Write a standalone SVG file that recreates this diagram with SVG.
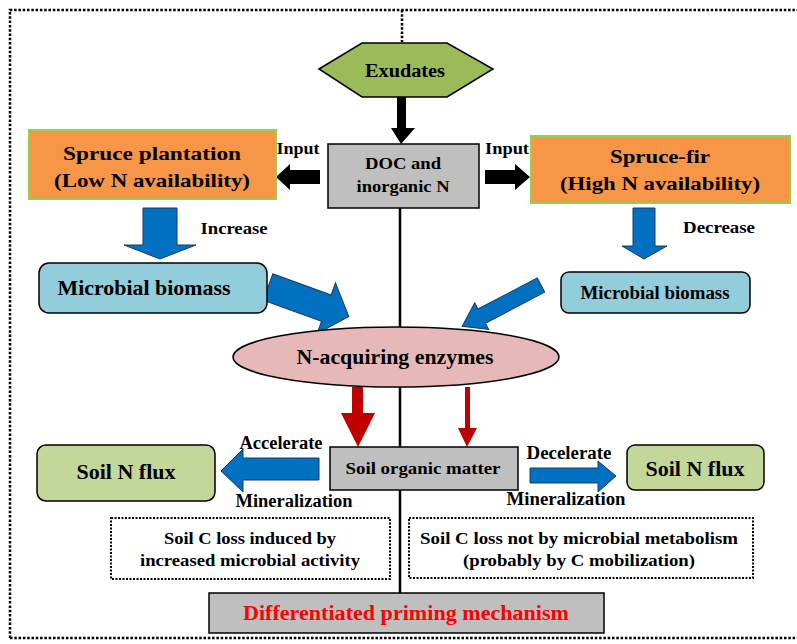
<svg xmlns="http://www.w3.org/2000/svg" width="797" height="644" viewBox="0 0 797 644">
<style>
text{font-family:"Liberation Serif","DejaVu Serif",serif;font-weight:bold;fill:#000;text-anchor:middle}
.dot{fill:none;stroke:#000;stroke-width:2.5;stroke-dasharray:2.5 1.8}
.dotb{fill:#fff;stroke:#000;stroke-width:2;stroke-dasharray:2 1.5}
.gray{fill:#bfbfbf;stroke:#000;stroke-width:1.5}
.orange{fill:#f79646;stroke:#92d050;stroke-width:2}
.blue{fill:#0070c0;stroke:#1f3864;stroke-width:1}
.red{fill:#c00000}
.blk{fill:#000}
.line{stroke:#000;stroke-width:2.5;fill:none}
</style>
<rect x="0" y="0" width="797" height="644" fill="#fff"/>
<g id="frame">
<path class="dot" d="M10,638 L10,10 L797,10"/>
<path class="dot" d="M10,638 L797,638"/>
<path class="dot" d="M402,10 L402,42"/>
</g>
<g id="connectors">
<path class="line" d="M400,208 V327 M400,387 V447 M400,490 V593"/>
<polygon class="blk" points="397,97 406,97 406,128 415,128 401,144 391,128 397,128"/>
<polygon class="blk" points="320,170 290,170 290,164 276,177 290,190 290,184 320,184"/>
<polygon class="blk" points="485,170 515,170 515,164 530,177 515,190 515,184 485,184"/>
<polygon class="blue" points="143,208 177,208 177,245 196,245 160,259 124,245 143,245"/>
<polygon class="blue" points="633,208 655,208 655,246 667,246 644,259 622,246 633,246"/>
<polygon class="blue" transform="translate(268,287) rotate(20)" points="0,-14 62,-14 62,-27 86,0 62,27 62,14 0,14"/>
<polygon class="blue" transform="translate(541,285) rotate(152.3)" points="0,-8 67,-8 67,-15 89,0 67,15 67,8 0,8"/>
<polygon class="red" points="352,387 363,387 363,413 375,413 358,447 341,413 352,413"/>
<polygon class="red" points="465,387 470,387 470,428 477,428 467,447 458,428 465,428"/>
<polygon class="blue" points="319,458 243,458 243,449 221,471 243,492 243,480 319,480"/>
<polygon class="blue" points="530,468 598,468 598,461 616,476 598,492 598,483 530,483"/>
</g>
<g id="labels">
<text x="298" y="154" font-size="17" textLength="43" lengthAdjust="spacingAndGlyphs">Input</text>
<text x="507" y="154" font-size="17" textLength="44" lengthAdjust="spacingAndGlyphs">Input</text>
<text x="234" y="234" font-size="17" textLength="67" lengthAdjust="spacingAndGlyphs">Increase</text>
<text x="719" y="233" font-size="17" textLength="72" lengthAdjust="spacingAndGlyphs">Decrease</text>
<text x="281" y="449" font-size="18" textLength="83" lengthAdjust="spacingAndGlyphs">Accelerate</text>
<text x="294" y="507" font-size="18" textLength="117" lengthAdjust="spacingAndGlyphs">Mineralization</text>
<text x="569" y="459" font-size="18" textLength="85" lengthAdjust="spacingAndGlyphs">Decelerate</text>
<text x="566" y="505" font-size="18" textLength="119" lengthAdjust="spacingAndGlyphs">Mineralization</text>
</g>
<g id="exudates">
<polygon points="319,69 362,43 447,43 493,69 447,97 362,97" fill="#9bbb59" stroke="#000" stroke-width="1.5"/>
<text x="405" y="77" font-size="18" textLength="80" lengthAdjust="spacingAndGlyphs">Exudates</text>
</g>
<g id="doc">
<rect class="gray" x="328" y="144" width="151" height="64"/>
<text x="403" y="169" font-size="17" textLength="76" lengthAdjust="spacingAndGlyphs">DOC and</text>
<text x="403" y="192" font-size="17" textLength="93" lengthAdjust="spacingAndGlyphs">inorganic N</text>
</g>
<g id="spruce-plantation">
<rect class="orange" x="29" y="130" width="247" height="69"/>
<text x="152" y="160" font-size="19" textLength="178" lengthAdjust="spacingAndGlyphs">Spruce plantation</text>
<text x="152" y="187" font-size="19" textLength="196" lengthAdjust="spacingAndGlyphs">(Low N availability)</text>
</g>
<g id="spruce-fir">
<rect class="orange" x="531" y="136" width="259" height="67"/>
<text x="660" y="163" font-size="19" textLength="100" lengthAdjust="spacingAndGlyphs">Spruce-fir</text>
<text x="660" y="190" font-size="19" textLength="200" lengthAdjust="spacingAndGlyphs">(High N availability)</text>
</g>
<g id="biomass-left">
<rect x="39" y="263" width="228" height="50" rx="10" fill="#92cddc" stroke="#000" stroke-width="1.5"/>
<text x="144" y="295" font-size="21" textLength="173" lengthAdjust="spacingAndGlyphs">Microbial biomass</text>
</g>
<g id="biomass-right">
<rect x="561" y="272" width="189" height="41" rx="8" fill="#92cddc" stroke="#000" stroke-width="1.5"/>
<text x="655" y="299" font-size="18" textLength="149" lengthAdjust="spacingAndGlyphs">Microbial biomass</text>
</g>
<g id="enzymes">
<ellipse cx="396" cy="357" rx="163" ry="30" fill="#e6b9b8" stroke="#000" stroke-width="1.5"/>
<text x="395" y="364" font-size="21" textLength="197" lengthAdjust="spacingAndGlyphs">N-acquiring enzymes</text>
</g>
<g id="som">
<rect class="gray" x="330" y="447" width="188" height="43"/>
<text x="423" y="474" font-size="17" textLength="155" lengthAdjust="spacingAndGlyphs">Soil organic matter</text>
</g>
<g id="nflux-left">
<rect x="37" y="445" width="178" height="56" rx="9" fill="#c4d79b" stroke="#000" stroke-width="1.5"/>
<text x="126" y="479" font-size="21" textLength="99" lengthAdjust="spacingAndGlyphs">Soil N flux</text>
</g>
<g id="nflux-right">
<rect x="627" y="445" width="137" height="45" rx="8" fill="#c4d79b" stroke="#000" stroke-width="1.5"/>
<text x="695" y="476" font-size="21" textLength="99" lengthAdjust="spacingAndGlyphs">Soil N flux</text>
</g>
<g id="closs-left">
<rect class="dotb" x="111" y="518" width="279" height="61"/>
<text x="250" y="544" font-size="16" textLength="172" lengthAdjust="spacingAndGlyphs">Soil C loss induced by</text>
<text x="250" y="566" font-size="16" textLength="220" lengthAdjust="spacingAndGlyphs">increased microbial activity</text>
</g>
<g id="closs-right">
<rect class="dotb" x="409" y="518" width="344" height="60"/>
<text x="579" y="544" font-size="16" textLength="318" lengthAdjust="spacingAndGlyphs">Soil C loss not by microbial metabolism</text>
<text x="579" y="566" font-size="16" textLength="232" lengthAdjust="spacingAndGlyphs">(probably by C mobilization)</text>
</g>
<g id="priming">
<rect class="gray" x="209" y="593" width="395" height="40"/>
<text x="406" y="620" font-size="20" style="fill:#ff0000" textLength="326" lengthAdjust="spacingAndGlyphs">Differentiated priming mechanism</text>
</g>
</svg>
